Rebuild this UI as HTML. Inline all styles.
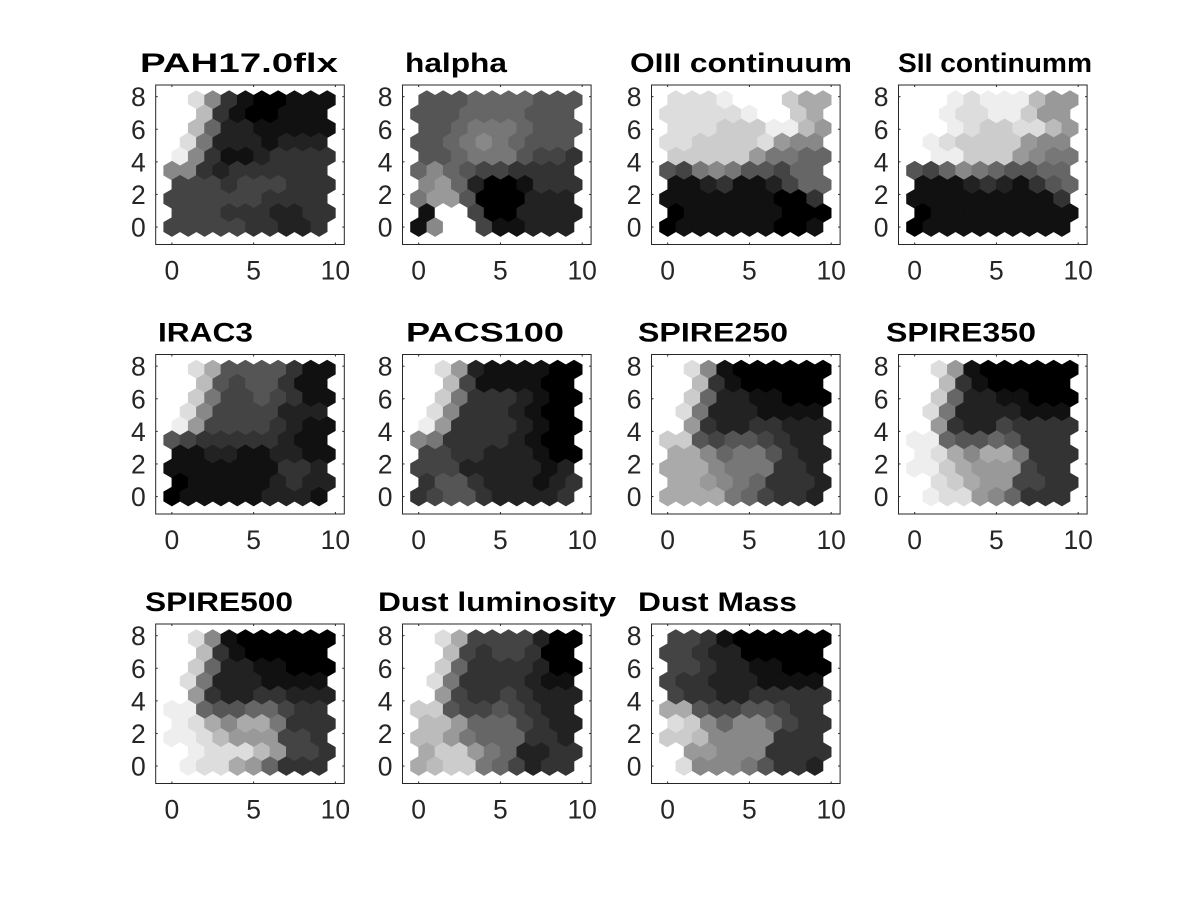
<!DOCTYPE html>
<html><head><meta charset="utf-8"><style>
html,body{margin:0;padding:0;background:#fff;}
svg{display:block;}
text{font-family:"Liberation Sans",Arial,sans-serif;}
</style></head><body>
<svg id="fig" width="1200" height="900" viewBox="0 0 1200 900"></svg>
<script>
// grayscale levels 0 (black) .. f (white); strings list rows from top (row 9) to bottom (row 0)
const titles=["PAH17.0flx","halpha","OIII continuum","SII continumm","IRAC3","PACS100","SPIRE250","SPIRE350","SPIRE500","Dust luminosity","Dust Mass"];
const titleWidths=[198,102,222,194,95,158,150,150,148,238,159];
const titleLefts=[140,405,630,898,158,406,638,886,145,378,638];
const pah=["fd83100111","ffb3100111","fb62211111","fd72221222","e831123333","8832333333","4443444333","4444443333","4443332233","4444433223"];
const halpha=["5556666555","5556666555","5567776555","5567876555","5567775443","6865443333","8962001333","7995000222","1ff4002222","18ff411222"];
const oiii=["dddefffcaa","dddddeffca","dddccceeb9","ddccccd988","cccc c97766".replace(" ",""),"5478755466","1123112466","1111111003","0111111000","0111111001"];
const sii=["ffedeeeb99","ffeddeec99","ffedccddb9","fedcccc988","feeccc9877","5468765566","1112321356","1111111113","0111111111","0111111111"];
const irac=["fda5555311","ffb5455311","fc74454311","fd84444222","e944443211","5433333211","1122112211","1111111332","0111112322","0111112221"];
const pacs=["fd92111100","ffb4111100","fc73332100","fd83332100","e933332100","8733332100","4433222100","4442222212","3553222123","3455322223"];
const spire250=["fd81000000","ffb3100000","fc62211000","fd72221111","f932233222","cc54554322","aa86775322","aaa8777332","aa98763332","aaaa764332"];
const spire350=["fd91000000","ffb3100000","fc62211000","fd72222111","f932243333","ee65565333","eda8aa7333","eeca999433","fdca994433","fedd986333"];
const spire500=["fd81000000","ffb3100000","fc62211000","fd72221111","f932233222","ee65566433","eda8aa7333","eedb999443","fedddb9443","fedda96333"];
const dustlum=["fda4444200","ffb4344300","fc63333200","fd73333211","f943343222","cc54454322","bb96664322","bb97666332","acc9762233","abcc764233"];
const dustmass=["4431000000","4432200000","4432211000","4332221111","4332233333","aa54455433","dc86886433","ccb8888333","f998883333","fd88875332"];
const planes=[pah,halpha,oiii,sii,irac,pacs,spire250,spire350,spire500,dustlum,dustmass];
const xTicks=[0,5,10];
const yTicks=[0,2,4,6,8];

const NS="http://www.w3.org/2000/svg";
const svg=document.getElementById('fig');
const colX=[155.7,402.5,651.5,898.5];
const rowY=[85,354.5,624];
const BW=188.6,BH=159.5,XMIN=-0.99,YMIN=-1.07,SX=16.35,SY=16.3;
function mk(tag,attrs,parent){const e=document.createElementNS(NS,tag);for(const k in attrs)e.setAttribute(k,attrs[k]);(parent||svg).appendChild(e);return e;}
const R=0.5/Math.cos(Math.PI/6);
planes.forEach((rows,i)=>{
  const L=colX[i%4],T=rowY[Math.floor(i/4)];
  const px=x=>L+(x-XMIN)*SX, py=y=>T+BH-(y-YMIN)*SY;
  const g=mk('g',{});
  
  
  const box=mk('rect',{x:L,y:T,width:BW,height:BH,fill:'#fff',stroke:'none'},g);
  
  
  rows.forEach((s,ri)=>{
    const r=9-ri;
    for(let c=0;c<10;c++){
      const v=parseInt(s[c],16)*17;
      const cx=c+(r%2?0.5:0), cy=r*Math.sqrt(0.75);
      const pts=[[0,R],[0.5,R/2],[0.5,-R/2],[0,-R],[-0.5,-R/2],[-0.5,R/2]].map(p=>px(cx+p[0]).toFixed(2)+','+py(cy+p[1]).toFixed(2)).join(' ');
      const h=mk('polygon',{points:pts,fill:`rgb(${v},${v},${v})`,stroke:`rgb(${v},${v},${v})`,'stroke-width':0.6},g);
      
      
    }
  });
  const frame=mk('rect',{x:L,y:T,width:BW,height:BH,fill:'none',stroke:'#262626','stroke-width':1},g);
  
  
  xTicks.forEach(t=>{
    const x=px(t);
    mk('line',{x1:x,x2:x,y1:T+BH,y2:T+BH-2,stroke:'#262626'},g);
    mk('line',{x1:x,x2:x,y1:T,y2:T+2,stroke:'#262626'},g);
    const tx=mk('text',{x:x,y:T+BH+35,'text-anchor':'middle','font-size':26.5,fill:'#262626'},g);
    tx.textContent=t;
    
    
  });
  yTicks.forEach(t=>{
    const y=py(t);
    mk('line',{x1:L,x2:L+2,y1:y,y2:y,stroke:'#262626'},g);
    mk('line',{x1:L+BW,x2:L+BW-2,y1:y,y2:y,stroke:'#262626'},g);
    const ty=mk('text',{x:L-10,y:y+9.5,'text-anchor':'end','font-size':26.5,fill:'#262626'},g);
    ty.textContent=t;
    
    
  });
  const ti=mk('text',{x:titleLefts[i],y:T-13,'font-size':27,'font-weight':'bold',fill:'#000',textLength:titleWidths[i],lengthAdjust:'spacingAndGlyphs'},g);
  ti.textContent=titles[i];
  
  
});
</script>
</body></html>
